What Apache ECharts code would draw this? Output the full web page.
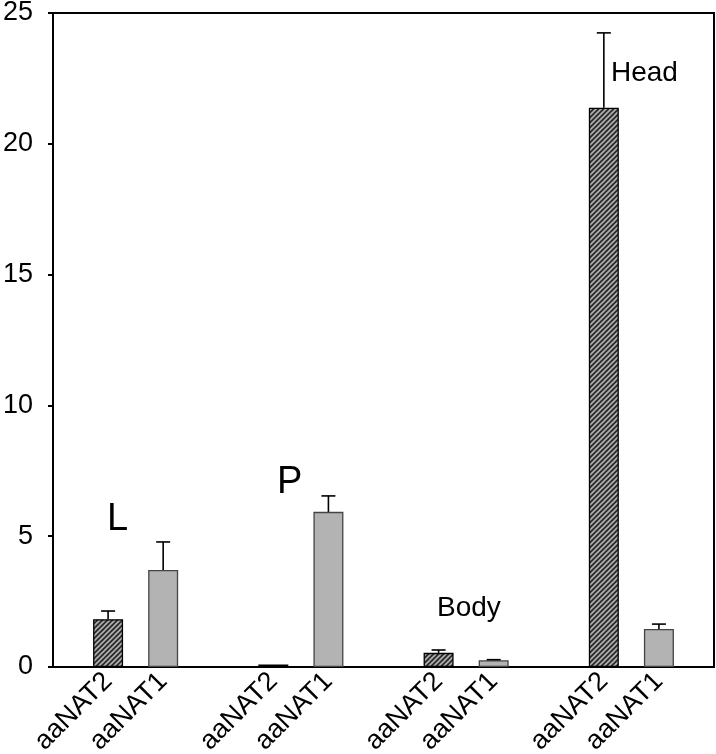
<!DOCTYPE html>
<html>
<head>
<meta charset="utf-8">
<script src="https://cdn.jsdelivr.net/npm/echarts@6/dist/echarts.min.js"></script>
<style>
  html, body { margin: 0; padding: 0; background: #fff; }
  #chart { width: 716px; height: 754px; }
</style>
</head>
<body>
<div id="chart"></div>
<script>
// slots along the x axis: blank, aaNAT2, aaNAT1, blank, ...
var tissues = ['L', 'P', 'Body', 'Head'];
var genes = ['aaNAT2', 'aaNAT1'];
var aaNAT2 = [1.83, 0.1, 0.54, 21.38];
var aaNAT2Err = [0.31, 0, 0.11, 2.86];
var aaNAT1 = [3.71, 5.93, 0.26, 1.45];
var aaNAT1Err = [1.07, 0.61, 0.02, 0.19];
var yTicks = [0, 5, 10, 15, 20, 25];

// build 13 slots: gap, pair, gap, pair ... gap
var slots = [];
var idx2 = [], idx1 = [];
slots.push('g0');
tissues.forEach(function(t, i) {
  idx2.push(slots.length); slots.push(genes[0] + '|' + t);
  idx1.push(slots.length); slots.push(genes[1] + '|' + t);
  slots.push('g' + (i + 1));
});

function spread(idx, vals) {
  var out = slots.map(function() { return '-'; });
  idx.forEach(function(k, i) { out[k] = vals[i]; });
  return out;
}
function errData(idx, vals, errs) {
  return idx.map(function(k, i) { return [k, vals[i], errs[i]]; });
}

// hatch pattern for aaNAT2
var hatch = document.createElement('canvas');
hatch.width = 5; hatch.height = 5;
var hc = hatch.getContext('2d');
hc.fillStyle = '#2b2b2b';
hc.fillRect(0, 0, 5, 5);
hc.strokeStyle = '#b0b0b0';
hc.lineWidth = 1.6;
hc.beginPath();
hc.moveTo(-1, 6); hc.lineTo(6, -1);
hc.moveTo(-1, 1); hc.lineTo(1, -1);
hc.moveTo(4, 6); hc.lineTo(6, 4);
hc.stroke();

function errItem(params, api) {
  var x = api.value(0);
  var top = api.coord([x, api.value(1) + api.value(2)]);
  var base = api.coord([x, api.value(1)]);
  if (api.value(2) <= 0) return null;
  var cap = 7;
  var st = { stroke: '#000', lineWidth: 1.6 };
  return {
    type: 'group',
    children: [
      { type: 'line', shape: { x1: top[0], y1: base[1], x2: top[0], y2: top[1] }, style: st },
      { type: 'line', shape: { x1: top[0] - cap, y1: top[1], x2: top[0] + cap, y2: top[1] }, style: st }
    ]
  };
}

var chart = echarts.init(document.getElementById('chart'));
chart.setOption({
  animation: false,
  grid: {
    left: 53, right: 2, top: 13, bottom: 87,
    outerBoundsMode: 'none',
    containLabel: false,
    show: true, borderColor: '#000', borderWidth: 2
  },
  xAxis: {
    type: 'category',
    data: slots,
    boundaryGap: false,
    axisLine: { lineStyle: { color: '#000', width: 2 } },
    axisTick: { show: false },
    axisLabel: {
      interval: 0,
      rotate: 45,
      margin: 10,
      color: '#000',
      fontFamily: 'Liberation Sans, Arial',
      fontSize: 27,
      formatter: function(v) { return v.charAt(0) === 'g' ? '' : v.split('|')[0]; }
    }
  },
  yAxis: {
    type: 'value',
    min: yTicks[0],
    max: yTicks[yTicks.length - 1],
    interval: 5,
    splitLine: { show: false },
    axisLine: { show: true, lineStyle: { color: '#000', width: 2 } },
    axisTick: { show: true, inside: false, length: 5, lineStyle: { color: '#000', width: 2 } },
    axisLabel: {
      margin: 20,
      color: '#000',
      fontFamily: 'Liberation Sans, Arial',
      fontSize: 27
    }
  },
  series: [
    {
      name: 'aaNAT2',
      type: 'bar',
      data: spread(idx2, aaNAT2),
      barWidth: 30,
      barGap: '-100%',
      itemStyle: {
        color: { image: hatch, repeat: 'repeat' },
        borderColor: '#000',
        borderWidth: 1.3
      }
    },
    {
      name: 'aaNAT1',
      type: 'bar',
      data: spread(idx1, aaNAT1),
      barWidth: 30,
      itemStyle: { color: '#b3b3b3', borderColor: '#444', borderWidth: 1.3 }
    },
    {
      type: 'custom',
      renderItem: errItem,
      data: errData(idx2, aaNAT2, aaNAT2Err),
      z: 5
    },
    {
      type: 'custom',
      renderItem: errItem,
      data: errData(idx1, aaNAT1, aaNAT1Err),
      z: 5
    }
  ],
  graphic: [
    { type: 'text', left: 107, top: 501, style: { text: tissues[0], font: '38px Liberation Sans, Arial', fill: '#000' } },
    { type: 'text', left: 277, top: 464, style: { text: tissues[1], font: '38px Liberation Sans, Arial', fill: '#000' } },
    { type: 'text', left: 437, top: 594, style: { text: tissues[2], font: '28px Liberation Sans, Arial', fill: '#000' } },
    { type: 'text', left: 611, top: 59, style: { text: tissues[3], font: '28px Liberation Sans, Arial', fill: '#000' } }
  ]
});
</script>
</body>
</html>
